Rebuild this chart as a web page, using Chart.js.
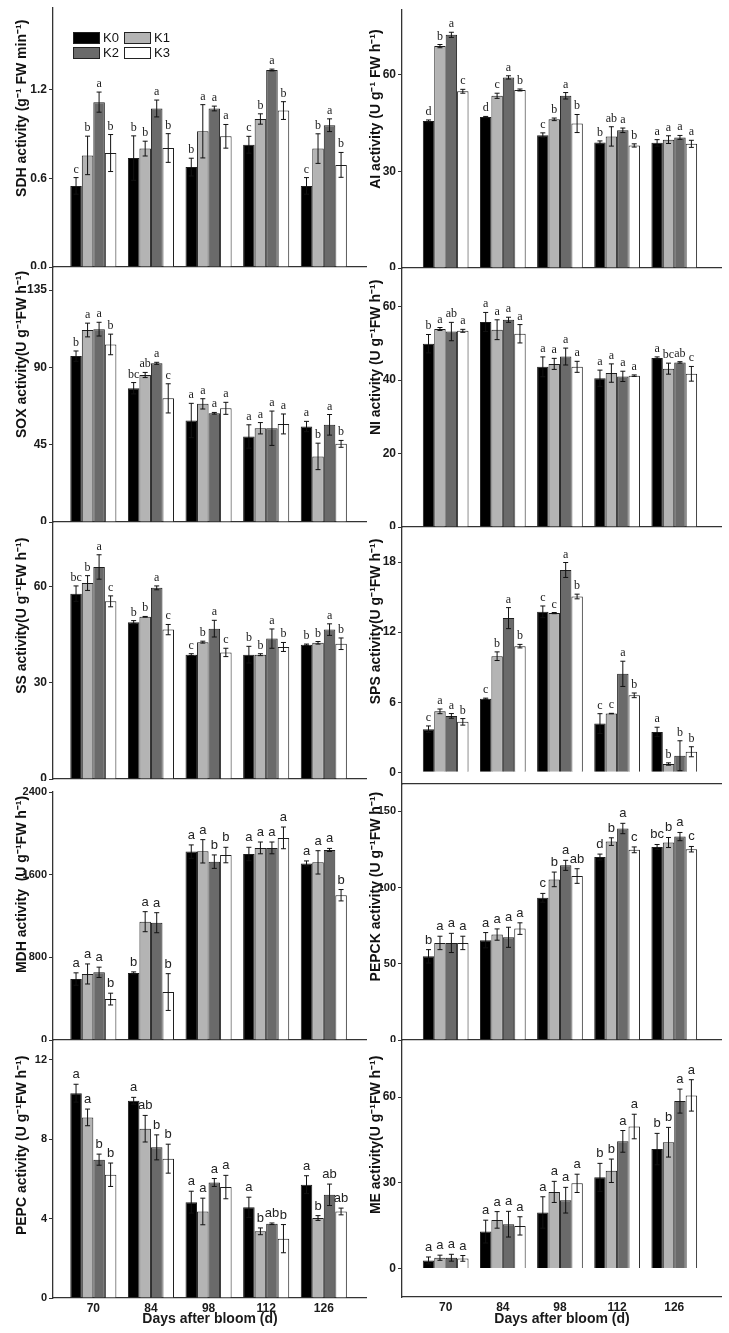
<!DOCTYPE html>
<html lang="en">
<head>
    <meta charset="UTF-8">
    <title>Enzyme activities after bloom</title>
    <script src="https://cdn.jsdelivr.net/npm/chart.js"></script>
    <style>
        body {
            margin: 0;
            background: #fff;
            width: 729px;
            height: 1333px;
            position: relative;
            overflow: hidden;
        }

        canvas {
            position: absolute;
        }
    </style>
</head>
<body>
    <div id="page"></div>

    <script>
        // days after bloom and treatments
        const days = [70, 84, 98, 112, 126];
        const series = ['K0', 'K1', 'K2', 'K3'];
        const fills = ['#000000', '#b4b4b4', '#6a6a6a', '#ffffff'];

        // SDH
        const sdhMean = [[0.548, 0.736, 0.675, 0.826, 0.548], [0.754, 0.800, 0.917, 1.000, 0.800], [1.114, 1.071, 1.071, 1.331, 0.958], [0.770, 0.804, 0.883, 1.057, 0.690]];
        const sdhErr = [[0.056, 0.15, 0.06, 0.057, 0.056], [0.13, 0.05, 0.18, 0.035, 0.10], [0.068, 0.057, 0.016, 0.006, 0.043], [0.125, 0.097, 0.08, 0.06, 0.084]];
        const sdhSig = [['c', 'b', 'b', 'c', 'c'], ['b', 'b', 'a', 'b', 'b'], ['a', 'a', 'a', 'a', 'a'], ['b', 'b', 'a', 'b', 'b']];
        const sdhTicks = [0, 0.6, 1.2];

        // AI
        const aiMean = [[45.6, 46.8, 41.2, 38.9, 38.8], [68.8, 53.4, 46.1, 40.8, 39.8], [72.3, 59.1, 53.4, 42.7, 40.5], [54.8, 55.2, 44.8, 38.0, 38.5]];
        const aiErr = [[0.3, 0.2, 0.7, 0.5, 1.0], [0.5, 0.8, 0.4, 3.0, 1.2], [0.8, 0.5, 1.0, 0.7, 0.6], [0.6, 0.3, 2.8, 0.5, 1.1]];
        const aiSig = [['d', 'd', 'c', 'b', 'a'], ['b', 'c', 'b', 'ab', 'a'], ['a', 'a', 'a', 'a', 'a'], ['c', 'b', 'b', 'b', 'a']];
        const aiTicks = [0, 30, 60];

        // SOX
        const soxMean = [[96.6, 77.9, 59.1, 49.8, 55.6], [111.8, 85.6, 68.8, 54.6, 38.2], [112.3, 92.4, 63.3, 54.6, 56.6], [103.4, 72.0, 66.2, 57.1, 45.5]];
        const soxErr = [[3, 3.3, 10, 6.8, 3], [4, 1.5, 3, 3.3, 7.7], [4, 0.6, 0.5, 10, 6], [6, 8.5, 3.5, 5.8, 2]];
        const soxSig = [['b', 'bc', 'a', 'a', 'a'], ['a', 'ab', 'a', 'a', 'b'], ['a', 'a', 'a', 'a', 'a'], ['b', 'c', 'a', 'a', 'b']];
        const soxTicks = [0, 45, 90, 135];

        // NI
        const niMean = [[49.9, 55.8, 43.6, 40.5, 46.0], [53.9, 53.7, 44.4, 41.9, 43.1], [53.2, 56.4, 46.4, 41.0, 44.8], [53.4, 52.6, 43.6, 41.2, 41.7]];
        const niErr = [[2.5, 2.6, 2.7, 2.2, 0.3], [0.4, 2.7, 1.5, 2.5, 1.5], [2.5, 0.7, 2.3, 1.4, 0.2], [0.4, 2.5, 1.5, 0.2, 2.0]];
        const niSig = [['b', 'a', 'a', 'a', 'a'], ['a', 'a', 'a', 'a', 'bc'], ['ab', 'a', 'a', 'a', 'ab'], ['a', 'a', 'a', 'a', 'c']];
        const niTicks = [0, 20, 40, 60];

        // SS
        const ssMean = [[57.7, 48.8, 38.7, 38.7, 41.8], [61.0, 50.5, 42.6, 38.7, 42.4], [66.0, 59.5, 46.8, 43.7, 46.5], [55.3, 46.5, 39.4, 41.1, 42.1]];
        const ssErr = [[2.4, 0.5, 0.3, 2.6, 0.2], [2.3, 0.1, 0.3, 0.3, 0.4], [3.8, 0.6, 2.6, 3.0, 1.8], [1.7, 1.6, 1.3, 1.4, 1.8]];
        const ssSig = [['bc', 'b', 'c', 'b', 'b'], ['b', 'b', 'b', 'b', 'b'], ['a', 'a', 'a', 'a', 'a'], ['c', 'c', 'c', 'b', 'b']];
        const ssTicks = [0, 30, 60];

        // SPS
        const spsMean = [[3.69, 6.30, 13.74, 4.17, 3.46], [5.22, 9.94, 13.63, 5.03, 0.71], [4.83, 13.2, 17.32, 8.43, 1.42], [4.32, 10.8, 15.05, 6.59, 1.76]];
        const spsErr = [[0.28, 0.05, 0.5, 0.85, 0.4], [0.2, 0.37, 0.05, 0.02, 0.1], [0.2, 0.9, 0.64, 1.08, 1.28], [0.28, 0.15, 0.2, 0.2, 0.43]];
        const spsSig = [['c', 'c', 'c', 'c', 'a'], ['a', 'b', 'c', 'c', 'b'], ['a', 'a', 'a', 'a', 'b'], ['b', 'b', 'b', 'b', 'b']];
        const spsTicks = [0, 6, 12, 18];

        // MDH
        const mdhMean = [[590, 649, 1823, 1800, 1709], [639, 1145, 1826, 1859, 1719], [655, 1135, 1726, 1859, 1839], [396, 464, 1790, 1956, 1401]];
        const mdhErr = [[60, 10, 65, 65, 24], [97, 97, 113, 57, 113], [50, 97, 65, 57, 15], [57, 178, 75, 105, 55]];
        const mdhSig = [['a', 'b', 'a', 'a', 'a'], ['a', 'a', 'a', 'a', 'a'], ['a', 'a', 'b', 'a', 'a'], ['b', 'b', 'b', 'a', 'b']];
        const mdhTicks = [0, 800, 1600, 2400];

        // PEPCK
        const pepckMean = [[54.9, 65.5, 93.3, 120.1, 126.7], [63.7, 69.2, 105.4, 130.2, 129.6], [63.7, 67.4, 114.6, 138.8, 133.5], [63.7, 73.1, 107.6, 124.8, 125.2]];
        const pepckErr = [[4.4, 5, 2.9, 1.9, 1.6], [4.4, 3.7, 4.8, 2.5, 3.3], [6.3, 6.6, 3.3, 3.4, 2.7], [4.4, 3.8, 4.8, 1.9, 1.8]];
        const pepckSig = [['b', 'a', 'c', 'd', 'bc'], ['a', 'a', 'b', 'b', 'b'], ['a', 'a', 'a', 'a', 'a'], ['a', 'a', 'ab', 'c', 'c']];
        const pepckTicks = [0, 50, 100, 150];

        // PEPC
        const pepcMean = [[10.32, 9.94, 4.83, 4.57, 5.71], [9.10, 8.53, 4.36, 3.36, 4.03], [6.97, 7.59, 5.82, 3.74, 5.20], [6.21, 7.02, 5.59, 2.99, 4.36]];
        const pepcErr = [[0.45, 0.17, 0.55, 0.51, 0.45], [0.42, 0.67, 0.67, 0.17, 0.12], [0.28, 0.63, 0.2, 0.04, 0.54], [0.59, 0.73, 0.59, 0.71, 0.17]];
        const pepcSig = [['a', 'a', 'a', 'a', 'a'], ['a', 'ab', 'a', 'b', 'b'], ['b', 'b', 'a', 'ab', 'ab'], ['b', 'b', 'a', 'b', 'ab']];
        const pepcTicks = [0, 4, 8, 12];

        // ME
        const meMean = [[2.81, 12.9, 19.6, 31.9, 41.8], [3.75, 17.0, 26.8, 34.2, 44.2], [3.75, 15.5, 23.9, 44.5, 58.6], [3.52, 14.9, 29.8, 49.7, 60.6]];
        const meErr = [[1.2, 4, 5.5, 4.9, 5.5], [0.9, 2.9, 3.7, 4.1, 5.2], [1.2, 4.5, 4.5, 3.8, 4.2], [1.0, 3.2, 3.2, 4.3, 5.5]];
        const meSig = [['a', 'a', 'a', 'b', 'b'], ['a', 'a', 'a', 'b', 'b'], ['a', 'a', 'a', 'a', 'a'], ['a', 'a', 'a', 'a', 'a']];
        const meTicks = [0, 30, 60];

        const SANS = '"Liberation Sans", Arial, sans-serif';
        const SERIF = '"Liberation Serif", "Times New Roman", serif';
        Chart.defaults.font.family = SANS;
        Chart.defaults.color = '#1a1a1a';

        // page columns: canvas left, y axis position, axis end, x range
        const cols = [
            { left: 0, axis: 53, right: 367, xmin: 60.2, xmax: 136.5, titlePad: 14 },
            { left: 360, axis: 402, right: 722, xmin: 59.3, xmax: 137.7, titlePad: 8 }
        ];

        // drop = how far the y title sits below the axis top (in spaces)
        const panels = [
            { mean: sdhMean, err: sdhErr, sig: sdhSig, ticks: sdhTicks, title: 'SDH activity (g⁻¹ FW min⁻¹)', drop: 3, min: 0, max: 1.75, dec: 1, col: 0, top: 8, bottom: 267, serif: true, key: true },
            { mean: aiMean, err: aiErr, sig: aiSig, ticks: aiTicks, title: 'AI activity (U g⁻¹ FW h⁻¹)', drop: 5, min: 0, max: 80, col: 1, top: 10, bottom: 268, serif: true },
            { mean: soxMean, err: soxErr, sig: soxSig, ticks: soxTicks, title: 'SOX activity(U g⁻¹FW h⁻¹)', drop: 1, min: 0, max: 148.5, col: 0, top: 267, bottom: 522, serif: true },
            { mean: niMean, err: niErr, sig: niSig, ticks: niTicks, title: 'NI activity (U g⁻¹FW h⁻¹)', drop: 3, min: 0, max: 70.5, col: 1, top: 268, bottom: 527, serif: true },
            { mean: ssMean, err: ssErr, sig: ssSig, ticks: ssTicks, title: 'SS activity(U g⁻¹FW h⁻¹)', drop: 4, min: 0, max: 80, col: 0, top: 522, bottom: 779, serif: true },
            { mean: spsMean, err: spsErr, sig: spsSig, ticks: spsTicks, title: 'SPS activity(U g⁻¹FW h⁻¹)', drop: 3, min: -1, max: 21, col: 1, top: 527, bottom: 784, serif: true },
            { mean: mdhMean, err: mdhErr, sig: mdhSig, ticks: mdhTicks, title: 'MDH activity  (U g⁻¹FW h⁻¹)', drop: 1, min: 0, max: 2400, col: 0, top: 792, bottom: 1040, tickSize: 11 },
            { mean: pepckMean, err: pepckErr, sig: pepckSig, ticks: pepckTicks, title: 'PEPCK activity (U g⁻¹FW h⁻¹)', drop: 2, min: 0, max: 168, col: 1, top: 784, bottom: 1040, tickSize: 11 },
            { mean: pepcMean, err: pepcErr, sig: pepcSig, ticks: pepcTicks, title: 'PEPC activity (U g⁻¹FW h⁻¹)', drop: 4, min: 0, max: 13, col: 0, top: 1040, bottom: 1298, tickSize: 11, xlab: true },
            { mean: meMean, err: meErr, sig: meSig, ticks: meTicks, title: 'ME activity(U g⁻¹FW h⁻¹)', drop: 4, min: -10, max: 80, col: 1, top: 1040, bottom: 1297, xlab: true }
        ];

        // error bars and significance letters
        const marks = {
            id: 'marks',
            afterDatasetsDraw(chart, args, opts) {
                const ctx = chart.ctx;
                const y = chart.scales.y;
                ctx.save();
                chart.data.datasets.forEach((ds, k) => {
                    chart.getDatasetMeta(k).data.forEach((bar, i) => {
                        const v = ds.data[i].y;
                        const e = ds.err[i];
                        const yt = y.getPixelForValue(v + e);
                        const yb = y.getPixelForValue(v - e);
                        ctx.strokeStyle = '#111';
                        ctx.lineWidth = 1;
                        ctx.beginPath();
                        ctx.moveTo(bar.x, yt);
                        ctx.lineTo(bar.x, yb);
                        ctx.moveTo(bar.x - 2.5, yt);
                        ctx.lineTo(bar.x + 2.5, yt);
                        ctx.moveTo(bar.x - 2.5, yb);
                        ctx.lineTo(bar.x + 2.5, yb);
                        ctx.stroke();

                        ctx.fillStyle = '#222';
                        ctx.font = opts.font;
                        ctx.textAlign = 'center';
                        ctx.textBaseline = 'alphabetic';
                        ctx.fillText(ds.sig[i], bar.x, yt - opts.gap);
                    });
                });
                ctx.restore();
            }
        };

        // 2 x 2 key in the first panel
        const key = {
            id: 'key',
            afterDraw(chart, args, opts) {
                if (!opts.show) return;
                const ctx = chart.ctx;
                const a = chart.chartArea;
                ctx.save();
                ctx.font = '13px ' + SANS;
                ctx.textBaseline = 'middle';
                ctx.textAlign = 'left';
                chart.data.datasets.forEach((ds, k) => {
                    const bx = a.left + 20 + (k % 2) * 51;
                    const by = a.top + 24 + Math.floor(k / 2) * 15;
                    ctx.fillStyle = ds.backgroundColor;
                    ctx.fillRect(bx, by, 27, 12);
                    ctx.strokeStyle = '#222';
                    ctx.lineWidth = 1;
                    ctx.strokeRect(bx + 0.5, by + 0.5, 26, 11);
                    ctx.fillStyle = '#111';
                    ctx.fillText(ds.label, bx + 30, by + 6.5);
                });
                ctx.restore();
            }
        };

        const page = document.getElementById('page');

        panels.forEach(p => {
            const c = cols[p.col];
            const padTop = 14;
            const xh = p.xlab ? 1333 - p.bottom : 2;
            const canvas = document.createElement('canvas');
            const w = c.right - c.left;
            const h = p.bottom + xh - (p.top - padTop);
            canvas.width = w;
            canvas.height = h;
            canvas.style.left = c.left + 'px';
            canvas.style.top = (p.top - padTop) + 'px';
            canvas.style.width = w + 'px';
            canvas.style.height = h + 'px';
            page.appendChild(canvas);

            const datasets = series.map((name, k) => ({
                label: name,
                data: days.map((d, i) => ({ x: d, y: p.mean[k][i] })),
                err: p.err[k],
                sig: p.sig[k],
                backgroundColor: fills[k],
                borderColor: '#1e1e1e',
                borderWidth: 1,
                categoryPercentage: 0.8,
                barPercentage: 1
            }));

            new Chart(canvas, {
                type: 'bar',
                data: { datasets: datasets },
                plugins: [marks, key],
                options: {
                    responsive: false,
                    animation: false,
                    layout: { padding: { top: padTop, left: 0, right: 0, bottom: 0 } },
                    plugins: {
                        legend: { display: false },
                        tooltip: { enabled: false },
                        marks: {
                            font: p.serif ? '12px ' + SERIF : '13px ' + SANS,
                            gap: p.serif ? 5 : 6
                        },
                        key: { show: !!p.key }
                    },
                    scales: {
                        x: {
                            type: 'linear',
                            min: c.xmin,
                            max: c.xmax,
                            offset: false,
                            afterBuildTicks: s => { s.ticks = days.map(v => ({ value: v })); },
                            afterFit: s => { s.height = xh; s.paddingLeft = 0; s.paddingRight = 0; },
                            grid: { display: true, offset: false, drawOnChartArea: false, drawTicks: false },
                            border: { display: true, color: '#333', width: 1.3 },
                            ticks: {
                                display: !!p.xlab,
                                padding: 3,
                                color: '#1a1a1a',
                                font: { size: 12, weight: 'bold' },
                                callback: v => String(v)
                            },
                            title: {
                                display: !!p.xlab,
                                text: 'Days after bloom (d)',
                                color: '#1a1a1a',
                                font: { size: 14, weight: 'bold' },
                                padding: { top: 0, bottom: 5 }
                            }
                        },
                        y: {
                            min: p.min,
                            max: p.max,
                            afterBuildTicks: s => { s.ticks = p.ticks.map(v => ({ value: v })); },
                            afterFit: s => { s.width = c.axis - c.left; s.paddingTop = 0; s.paddingBottom = 0; },
                            grid: { drawOnChartArea: false, tickLength: 4, color: '#333', lineWidth: 1 },
                            border: { display: true, color: '#333', width: 1.3 },
                            ticks: {
                                padding: 2,
                                color: '#1a1a1a',
                                font: { size: p.tickSize || 12, weight: 'bold' },
                                callback: v => p.dec ? v.toFixed(p.dec) : String(v)
                            },
                            title: {
                                display: true,
                                text: p.title + '\u00a0'.repeat(p.drop),
                                align: 'end',
                                color: '#111',
                                font: { size: 14, weight: 'bold' },
                                padding: { top: c.titlePad, bottom: 0 }
                            }
                        }
                    }
                }
            });
        });
    </script>
</body>
</html>
